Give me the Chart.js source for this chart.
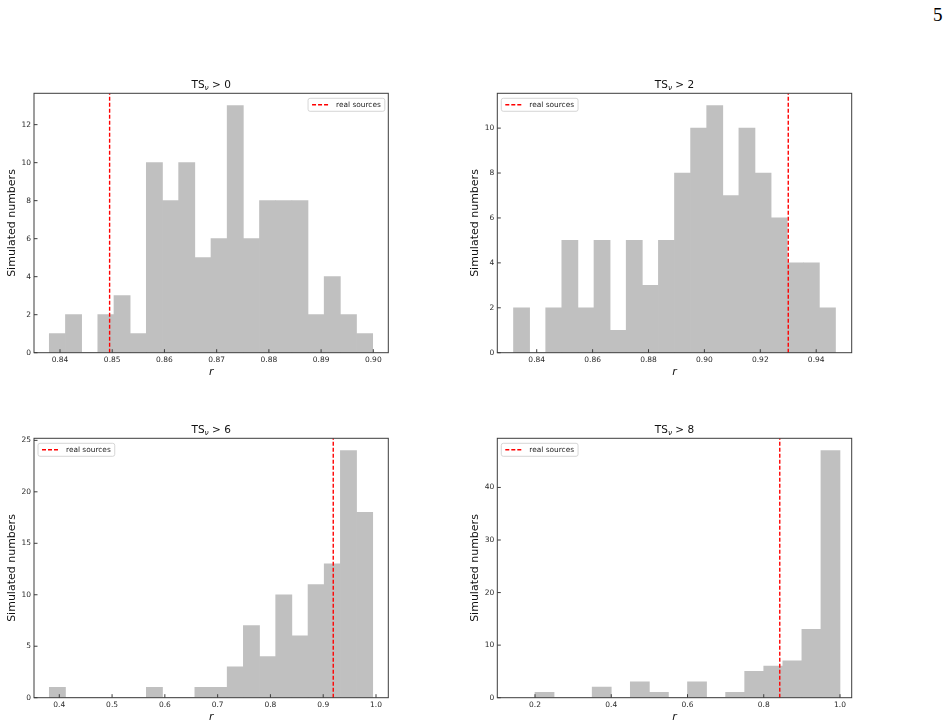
<!DOCTYPE html>
<html>
<head>
<meta charset="utf-8">
<script src="https://cdn.jsdelivr.net/npm/chart.js@4.4.1/dist/chart.umd.min.js"></script>
<style>
  body { margin: 0; background: #fff; width: 951px; height: 726px; position: relative; overflow: hidden; }
  .panel { position: absolute; }
  #pageNum { position: absolute; left: 933px; top: 5px; font-family: 'Liberation Serif', 'DejaVu Serif', serif; font-size: 19px; line-height: 19px; color: #000; }
</style>
</head>
<body>
<div id="pageNum">5</div>
<div class="panel" id="p1"><canvas id="c1"></canvas></div>
<div class="panel" id="p2"><canvas id="c2"></canvas></div>
<div class="panel" id="p3"><canvas id="c3"></canvas></div>
<div class="panel" id="p4"><canvas id="c4"></canvas></div>
<script>
// Histogram counts, one entry per bin
const countsTS0 = [1, 2, 0, 2, 3, 1, 10, 8, 10, 5, 6, 13, 6, 8, 8, 8, 2, 4, 2, 1];
const countsTS2 = [2, 0, 2, 5, 2, 5, 1, 5, 3, 5, 8, 10, 11, 7, 10, 8, 6, 4, 4, 2];
const countsTS6 = [1, 0, 0, 0, 0, 0, 1, 0, 0, 1, 1, 3, 7, 4, 10, 6, 11, 13, 24, 18];
const countsTS8 = [1, 0, 0, 2, 0, 3, 1, 0, 3, 0, 1, 5, 6, 7, 13, 47];

// First bin edge and bin width for each panel
const binStart = [0.83795, 0.8317, 0.3811, 0.20];
const binWidth = [0.0030965, 0.00576, 0.030635, 0.05];

// r of the real sources (red dashed line)
const realSources = [0.8495, 0.93, 0.919, 0.842];

// Titles (threshold on TS_nu)
const tsThresholds = ['0', '2', '6', '8'];

// Axis ranges and tick labels
const xRanges = [[0.83502, 0.90287], [0.8259, 0.9527], [0.3521, 1.0233], [0.1011, 1.0307]];
const yMaxes = [13.65, 11.55, 25.2, 49.35];
const xTicksTS0 = [0.84, 0.85, 0.86, 0.87, 0.88, 0.89, 0.90];
const xTicksTS2 = [0.84, 0.86, 0.88, 0.90, 0.92, 0.94];
const xTicksTS6 = [0.4, 0.5, 0.6, 0.7, 0.8, 0.9, 1.0];
const xTicksTS8 = [0.2, 0.4, 0.6, 0.8, 1.0];
const yTicksTS0 = [0, 2, 4, 6, 8, 10, 12];
const yTicksTS2 = [0, 2, 4, 6, 8, 10];
const yTicksTS6 = [0, 5, 10, 15, 20, 25];
const yTicksTS8 = [0, 10, 20, 30, 40];

const FONT = "'DejaVu Sans', 'Noto Sans', sans-serif";

// Frame, inward ticks, title with subscript and the legend box
const decorPlugin = {
  id: 'decor',
  afterDatasetsDraw(chart) {
    const { ctx, chartArea: a, scales: { x, y } } = chart;
    const opts = chart.options.plugins.decor;
    ctx.save();

    ctx.strokeStyle = '#3c3c3c';
    ctx.lineWidth = 1;
    ctx.strokeRect(a.left, a.top, a.right - a.left, a.bottom - a.top);
    ctx.beginPath();
    x.ticks.forEach(t => {
      const px = x.getPixelForValue(t.value);
      ctx.moveTo(px, a.bottom);
      ctx.lineTo(px, a.bottom - 3.5);
    });
    y.ticks.forEach(t => {
      const py = y.getPixelForValue(t.value);
      ctx.moveTo(a.left, py);
      ctx.lineTo(a.left + 3.5, py);
    });
    ctx.stroke();

    // title: TS_nu > N
    const bigFont = '10.5px ' + FONT;
    const subFont = 'italic 7.4px ' + FONT;
    const rest = ' > ' + opts.threshold;
    ctx.fillStyle = '#111';
    ctx.textBaseline = 'alphabetic';
    ctx.font = bigFont;
    const wTS = ctx.measureText('TS').width;
    const wRest = ctx.measureText(rest).width;
    ctx.font = subFont;
    const wSub = ctx.measureText('ν').width;
    let tx = (a.left + a.right) / 2 - (wTS + wSub + wRest) / 2;
    const ty = a.top - 5.3;
    ctx.font = bigFont;
    ctx.textAlign = 'left';
    ctx.fillText('TS', tx, ty);
    tx += wTS;
    ctx.font = subFont;
    ctx.fillText('ν', tx, ty + 2.2);
    tx += wSub;
    ctx.font = bigFont;
    ctx.fillText(rest, tx, ty);

    // legend
    const ds = chart.data.datasets[0];
    ctx.font = '7.4px ' + FONT;
    const lw = 4 + 18 + 6 + ctx.measureText(ds.label).width + 4;
    const lh = 13;
    const bx = opts.legendSide === 'right' ? a.right - 3.5 - lw : a.left + 4;
    const by = a.top + 5;
    ctx.beginPath();
    ctx.roundRect(bx, by, lw, lh, 2);
    ctx.fillStyle = 'rgba(255,255,255,0.8)';
    ctx.fill();
    ctx.strokeStyle = '#cccccc';
    ctx.lineWidth = 0.8;
    ctx.stroke();
    ctx.beginPath();
    ctx.setLineDash(ds.borderDash);
    ctx.strokeStyle = ds.borderColor;
    ctx.lineWidth = ds.borderWidth;
    ctx.moveTo(bx + 4, by + lh / 2);
    ctx.lineTo(bx + 22, by + lh / 2);
    ctx.stroke();
    ctx.setLineDash([]);
    ctx.fillStyle = '#222';
    ctx.textBaseline = 'middle';
    ctx.fillText(ds.label, bx + 28, by + lh / 2 + 0.5);

    ctx.restore();
  }
};

function makePanel(id, canvasId, area, idx, counts, xTicks, yTicks, decimals, legendSide) {
  const bx = Math.round(area.l - 40), by = Math.round(area.t - 28);
  const bw = Math.round(area.r + 14 - bx), bh = Math.round(area.b + 30 - by);
  const div = document.getElementById(id);
  Object.assign(div.style, { left: bx + 'px', top: by + 'px', width: bw + 'px', height: bh + 'px' });
  const yw = area.l - bx, xh = by + bh - area.b;
  const pt = area.t - by, pr = bx + bw - area.r;
  const start = binStart[idx], width = binWidth[idx];
  const yMax = yMaxes[idx];

  new Chart(document.getElementById(canvasId), {
    type: 'bar',
    data: {
      datasets: [
        {
          type: 'line',
          label: 'real sources',
          data: [{ x: realSources[idx], y: 0 }, { x: realSources[idx], y: yMax }],
          borderColor: '#ff0000',
          borderWidth: 1.4,
          borderDash: [4, 2],
          pointRadius: 0,
          fill: false
        },
        {
          type: 'bar',
          label: 'simulated',
          data: counts.map((c, i) => ({ x: start + width * (i + 0.5), y: c })),
          backgroundColor: '#c0c0c0',
          borderWidth: 0,
          barPercentage: 1,
          categoryPercentage: 1
        }
      ]
    },
    options: {
      responsive: true,
      maintainAspectRatio: false,
      animation: false,
      layout: { padding: { top: pt, right: pr, left: 0, bottom: 0 } },
      plugins: {
        legend: { display: false },
        tooltip: { enabled: false },
        decor: { threshold: tsThresholds[idx], legendSide: legendSide }
      },
      scales: {
        x: {
          type: 'linear',
          min: xRanges[idx][0],
          max: xRanges[idx][1],
          offset: false,
          grid: { display: false, drawTicks: false },
          border: { display: false },
          afterBuildTicks: s => { s.ticks = xTicks.map(v => ({ value: v })); },
          afterFit: s => { s.height = xh; },
          ticks: {
            padding: 2.5,
            autoSkip: false,
            maxRotation: 0,
            color: '#2a2a2a',
            font: { family: FONT, size: 7.5 },
            callback: v => Number(v).toFixed(decimals)
          },
          title: {
            display: true,
            text: 'r',
            color: '#111',
            font: { family: FONT, size: 11, style: 'italic' },
            padding: { top: 0, bottom: xh - 19 - 6.6 }
          }
        },
        y: {
          min: 0,
          max: yMax,
          grid: { display: false, drawTicks: false },
          border: { display: false },
          afterBuildTicks: s => { s.ticks = yTicks.map(v => ({ value: v })); },
          afterFit: s => { s.width = yw; },
          ticks: {
            padding: 3,
            color: '#2a2a2a',
            font: { family: FONT, size: 7.5 }
          },
          title: {
            display: true,
            text: 'Simulated numbers',
            color: '#111',
            font: { family: FONT, size: 11 },
            padding: { top: yw - 22 - 6.6, bottom: 0 }
          }
        }
      }
    },
    plugins: [decorPlugin]
  });
}

makePanel('p1', 'c1', { l: 34, t: 93.3, r: 388.3, b: 352.7 }, 0, countsTS0, xTicksTS0, yTicksTS0, 2, 'right');
makePanel('p2', 'c2', { l: 497.3, t: 93.3, r: 851.7, b: 352.7 }, 1, countsTS2, xTicksTS2, yTicksTS2, 2, 'left');
makePanel('p3', 'c3', { l: 34, t: 438.3, r: 388.3, b: 697.7 }, 2, countsTS6, xTicksTS6, yTicksTS6, 1, 'left');
makePanel('p4', 'c4', { l: 497.3, t: 438.3, r: 851.7, b: 697.7 }, 3, countsTS8, xTicksTS8, yTicksTS8, 1, 'left');
</script>
</body>
</html>
